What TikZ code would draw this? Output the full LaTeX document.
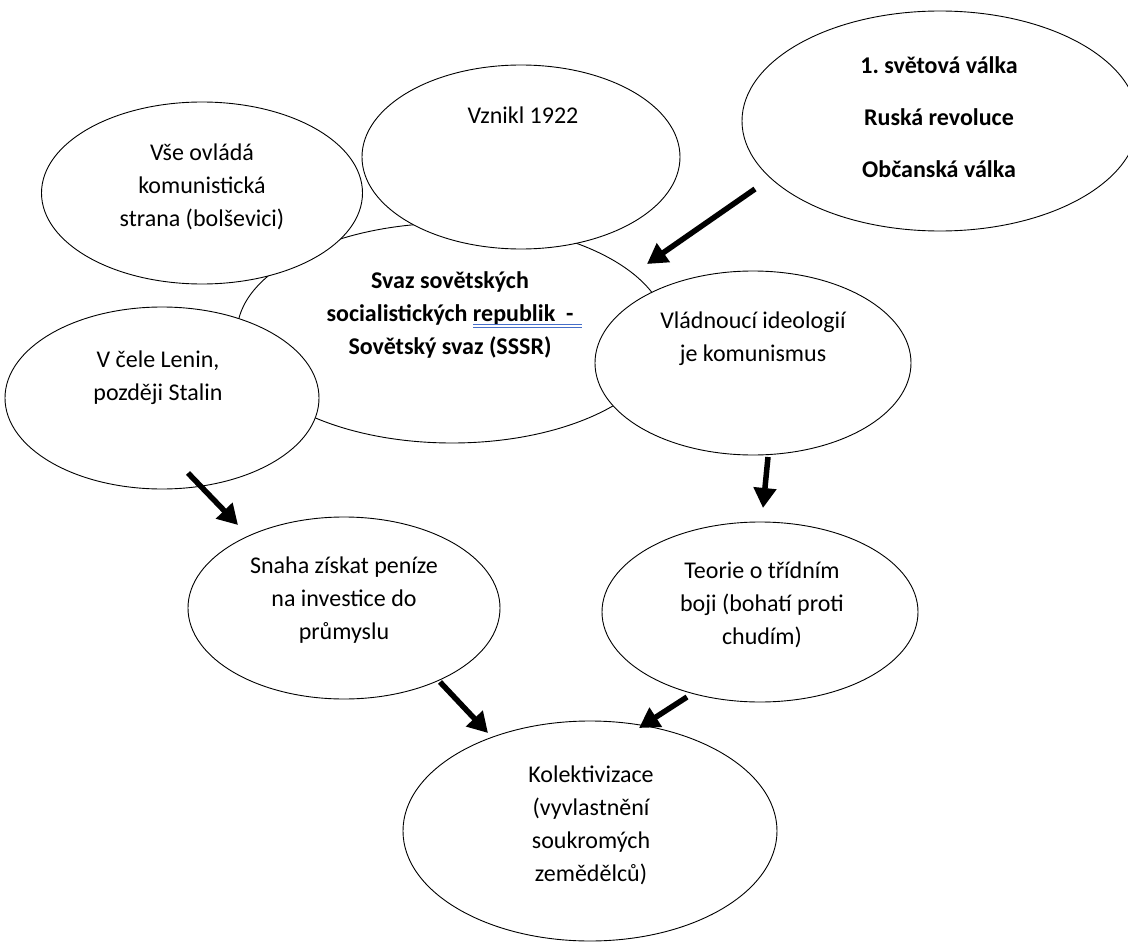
\documentclass[tikz,border=0pt]{standalone}
\usepackage{fontspec}
\setmainfont{Carlito}
\usetikzlibrary{arrows.meta,shapes.geometric}
\begin{document}
\begin{tikzpicture}[x=1pt,y=-1pt,
  bub/.style={ellipse, draw=black, line width=0.9pt, fill=white, inner sep=0pt},
  txt/.style={align=center, inner sep=0pt, anchor=north, font=\fontsize{24}{33}\selectfont},
  arr/.style={line width=5.5pt, -{Triangle[length=20pt,width=22pt]}}]
\useasboundingbox (0,0) rectangle (1128,942);
% ellipses
\node[bub, minimum width=430pt, minimum height=220pt] (svaz) at (452,333) {};
\node[bub, minimum width=321pt, minimum height=182pt] (vse) at (202,193) {};
\node[bub, minimum width=318pt, minimum height=184pt] (vznikl) at (521,157) {};
\node[bub, minimum width=396pt, minimum height=220pt] (valka) at (940,121) {};
\node[bub, minimum width=314pt, minimum height=182pt] (lenin) at (162,398) {};
\node[bub, minimum width=316pt, minimum height=184pt] (ideo) at (753,363) {};
\node[bub, minimum width=312pt, minimum height=182pt] (snaha) at (344,608) {};
\node[bub, minimum width=316pt, minimum height=180pt] (trida) at (760,612) {};
\node[bub, minimum width=374pt, minimum height=220pt] (kolekt) at (590,831) {};
% texts
\node[txt] (tvse) at (202,137) {\strut Vše ovládá\\komunistická\\strana (bolševici)};
\node[txt] (tvznikl) at (523,100) {\strut Vznikl 1922};
\node[txt, font=\fontsize{24}{33}\selectfont\bfseries] (tvalka) at (939,50) {\strut 1.\ světová válka\\[19pt]Ruská revoluce\\[19pt]Občanská válka};
\node[txt, font=\fontsize{24}{33}\selectfont\bfseries] (tsvaz) at (450,265) {\strut Svaz sovětských\\socialistických republik\ \ -\\Sovětský svaz (SSSR)};
\node[txt] (tlenin) at (158,344) {\strut V čele Lenin,\\později Stalin};
\node[txt] (tideo) at (753,305) {\strut Vládnoucí ideologií\\je komunismus};
\node[txt] (tsnaha) at (344,550) {\strut Snaha získat peníze\\na investice do\\průmyslu};
\node[txt] (ttrida) at (762,555) {\strut Teorie o třídním\\boji (bohatí proti\\chudím)};
\node[txt] (tkolekt) at (591,759) {\strut Kolektivizace\\(vyvlastnění\\soukromých\\zemědělců)};
% spell-check underline
\draw[color={rgb,255:red,70;green,110;blue,200}, line width=0.8pt] (473,324.5) -- (582,324.5) (473,327.5) -- (582,327.5);
% arrows
\coordinate (a1s) at (755,189); \coordinate (a1e) at (647,264);
\coordinate (a2s) at (188,473); \coordinate (a2e) at (238,525);
\coordinate (a3s) at (768,457); \coordinate (a3e) at (763,508);
\coordinate (a4s) at (440,682); \coordinate (a4e) at (488,733);
\coordinate (a5s) at (687,697); \coordinate (a5e) at (639,728);
\draw[arr] (a1s) -- (a1e);
\draw[arr] (a2s) -- (a2e);
\draw[arr] (a3s) -- (a3e);
\draw[arr] (a4s) -- (a4e);
\draw[arr] (a5s) -- (a5e);
\end{tikzpicture}
\end{document}
